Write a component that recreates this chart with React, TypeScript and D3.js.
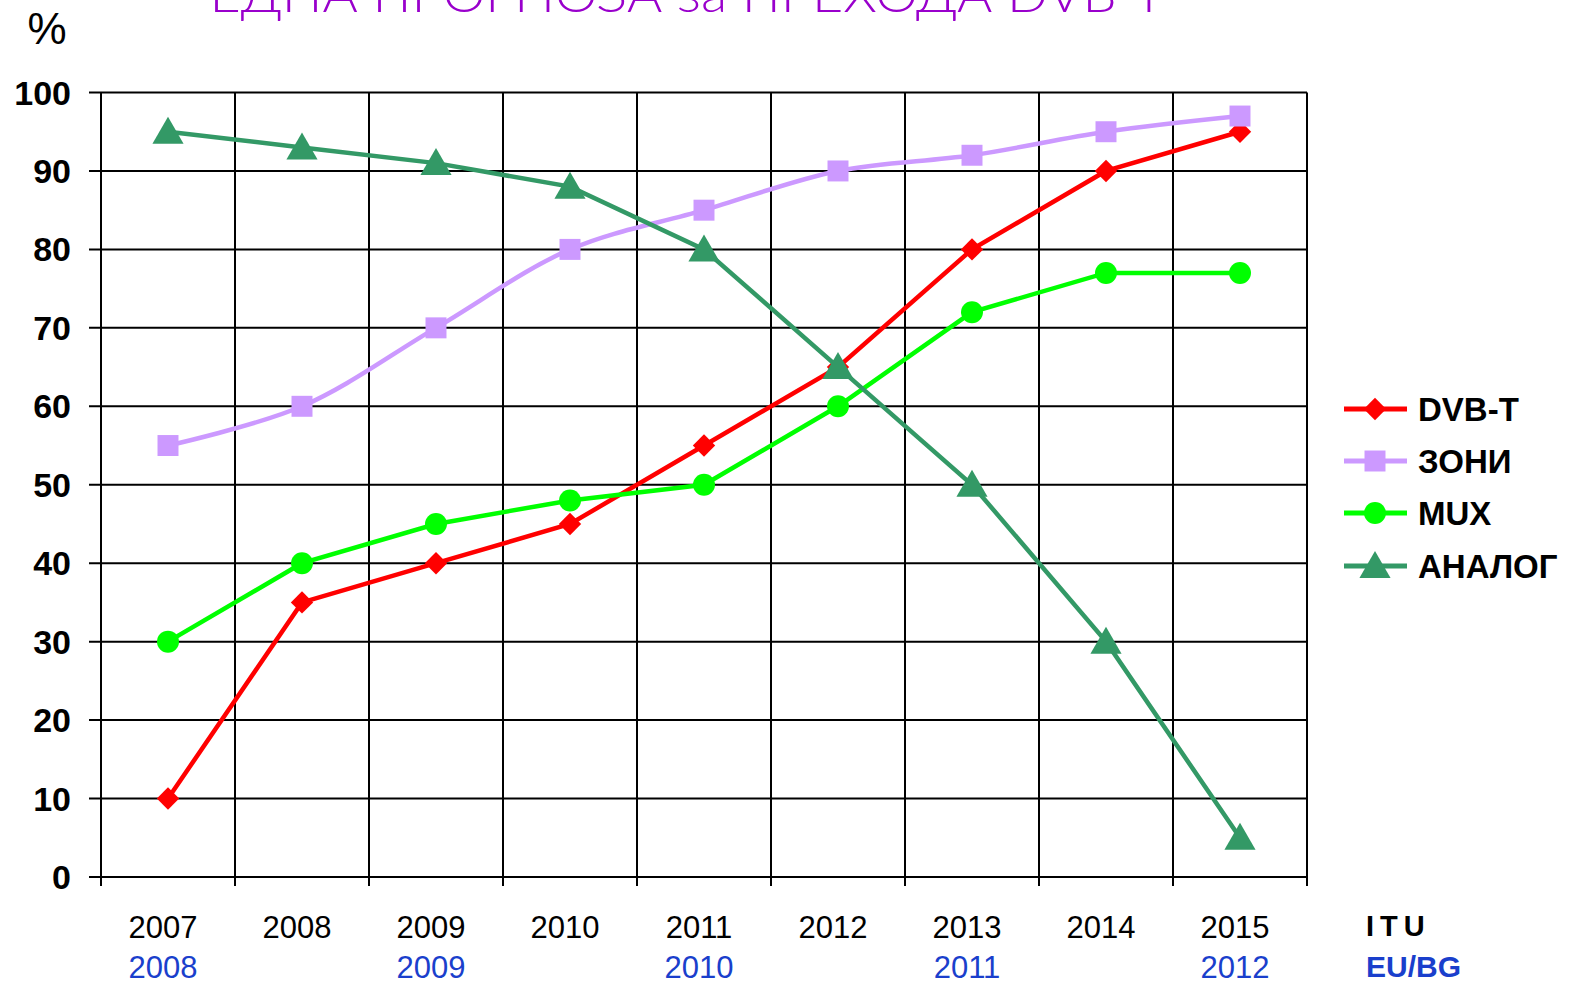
import React, { useEffect, useRef } from 'react';
import * as d3 from 'd3';

const years = ['2007', '2008', '2009', '2010', '2011', '2012', '2013', '2014', '2015'];
const euYears = ['2008', '', '2009', '', '2010', '', '2011', '', '2012'];
const yTicks = [0, 10, 20, 30, 40, 50, 60, 70, 80, 90, 100];

const dvbt = [10, 35, 40, 45, 55, 65, 80, 90, 95];
const zoni = [55, 60, 70, 80, 85, 90, 92, 95, 97];
const mux = [30, 40, 45, 48, 50, 60, 72, 77, 77];
const analog = [95, 93, 91, 88, 80, 65, 50, 30, 5];

const seriesNames = ['DVB-T', 'ЗОНИ', 'MUX', 'АНАЛОГ'];
const seriesValues = [dvbt, zoni, mux, analog];

export default function App() {
    const ref = useRef<SVGSVGElement>(null);

    useEffect(() => {
        if (!ref.current) return;
        document.body.style.margin = '0';

        const width = 1579;
        const height = 984;
        const svg = d3.select(ref.current);
        svg.selectAll('*').remove();
        svg.attr('width', width).attr('height', height);

        const font = '"Liberation Sans", Arial, sans-serif';
        const colors = ['#ff0000', '#cc99ff', '#00ff00', '#339966'];
        // diamond = square turned 45deg
        const symbols = [d3.symbolSquare, d3.symbolSquare, d3.symbolCircle, d3.symbolTriangle];
        const symSize = [250, 440, 380, 420];
        const symRot = [45, 0, 0, 0];

        const x = d3.scaleBand().domain(years).range([101, 1307]).padding(0);
        const y = d3.scaleLinear().domain([0, 100]).range([877, 92.5]);
        const cx = (d: string) => x(d)! + x.bandwidth() / 2;

        // title (cut off at top in the source)
        svg.append('text')
            .attr('x', 687).attr('y', 12)
            .attr('text-anchor', 'middle')
            .attr('font-family', '"Lato", sans-serif')
            .attr('font-weight', 300)
            .attr('font-size', 50)
            .attr('fill', '#9900cc')
            .attr('textLength', 955)
            .attr('lengthAdjust', 'spacingAndGlyphs')
            .text('ЕДНА ПРОГНОЗА за ПРЕХОДА DVB-T');

        svg.append('text')
            .attr('x', 47).attr('y', 44)
            .attr('text-anchor', 'middle')
            .attr('font-family', font)
            .attr('font-size', 44)
            .attr('fill', '#000')
            .text('%');

        // grid
        const grid = svg.append('g').attr('stroke', '#000').attr('stroke-width', 2);
        grid.selectAll('line.h')
            .data(yTicks)
            .enter()
            .append('line')
            .attr('x1', 89).attr('x2', 1307)
            .attr('y1', d => y(d)).attr('y2', d => y(d));

        const bounds = years.map(d => x(d)!).concat([x.range()[1]]);
        grid.selectAll('line.v')
            .data(bounds)
            .enter()
            .append('line')
            .attr('x1', d => d).attr('x2', d => d)
            .attr('y1', y(100)).attr('y2', y(0) + 9);

        // y labels
        svg.selectAll('text.ylab')
            .data(yTicks)
            .enter()
            .append('text')
            .attr('x', 71)
            .attr('y', d => y(d) + 12)
            .attr('text-anchor', 'end')
            .attr('font-family', font)
            .attr('font-weight', 'bold')
            .attr('font-size', 34)
            .attr('fill', '#000')
            .text(d => d);

        // x labels
        svg.selectAll('text.xlab')
            .data(years)
            .enter()
            .append('text')
            .attr('x', d => cx(d) - 5)
            .attr('y', 938)
            .attr('text-anchor', 'middle')
            .attr('font-family', font)
            .attr('font-size', 31)
            .attr('fill', '#000')
            .text(d => d);

        svg.selectAll('text.eulab')
            .data(years)
            .enter()
            .append('text')
            .attr('x', d => cx(d) - 5)
            .attr('y', 978)
            .attr('text-anchor', 'middle')
            .attr('font-family', font)
            .attr('font-size', 31)
            .attr('fill', '#1a3fcc')
            .text((d, i) => euYears[i]);

        svg.append('text')
            .attr('x', 1366).attr('y', 936)
            .attr('font-family', font).attr('font-weight', 'bold')
            .attr('font-size', 29).attr('letter-spacing', 6)
            .attr('fill', '#000')
            .text('ITU');
        svg.append('text')
            .attr('x', 1366).attr('y', 977)
            .attr('font-family', font).attr('font-weight', 'bold')
            .attr('font-size', 30)
            .attr('fill', '#1a3fcc')
            .text('EU/BG');

        // series
        seriesValues.forEach((vals, si) => {
            const line = d3.line<number>()
                .x((d, i) => cx(years[i]))
                .y(d => y(d))
                .curve(si === 1 ? d3.curveCatmullRom.alpha(0.5) : d3.curveLinear);

            svg.append('path')
                .datum(vals)
                .attr('d', line)
                .attr('fill', 'none')
                .attr('stroke', colors[si])
                .attr('stroke-width', 4.5);

            svg.selectAll(`path.m${si}`)
                .data(vals)
                .enter()
                .append('path')
                .attr('d', d3.symbol().type(symbols[si]).size(symSize[si])())
                .attr('transform', (d, i) => `translate(${cx(years[i])},${y(d) + (si === 3 ? 3 : 0)}) rotate(${symRot[si]})`)
                .attr('fill', colors[si]);
        });

        // legend
        const legendY = [409, 461, 513, 566];
        seriesNames.forEach((name, si) => {
            const g = svg.append('g').attr('transform', `translate(0,${legendY[si]})`);
            g.append('line')
                .attr('x1', 1344).attr('x2', 1407)
                .attr('y1', 0).attr('y2', 0)
                .attr('stroke', colors[si]).attr('stroke-width', 5);
            g.append('path')
                .attr('d', d3.symbol().type(symbols[si]).size(symSize[si])())
                .attr('transform', `translate(1375,${si === 3 ? 3 : 0}) rotate(${symRot[si]})`)
                .attr('fill', colors[si]);
            g.append('text')
                .attr('x', 1418).attr('y', 12)
                .attr('font-family', font).attr('font-weight', 'bold')
                .attr('font-size', 33)
                .attr('fill', '#000')
                .text(name);
        });
    }, []);

    return <svg ref={ref} style={{ display: 'block' }} />;
}
